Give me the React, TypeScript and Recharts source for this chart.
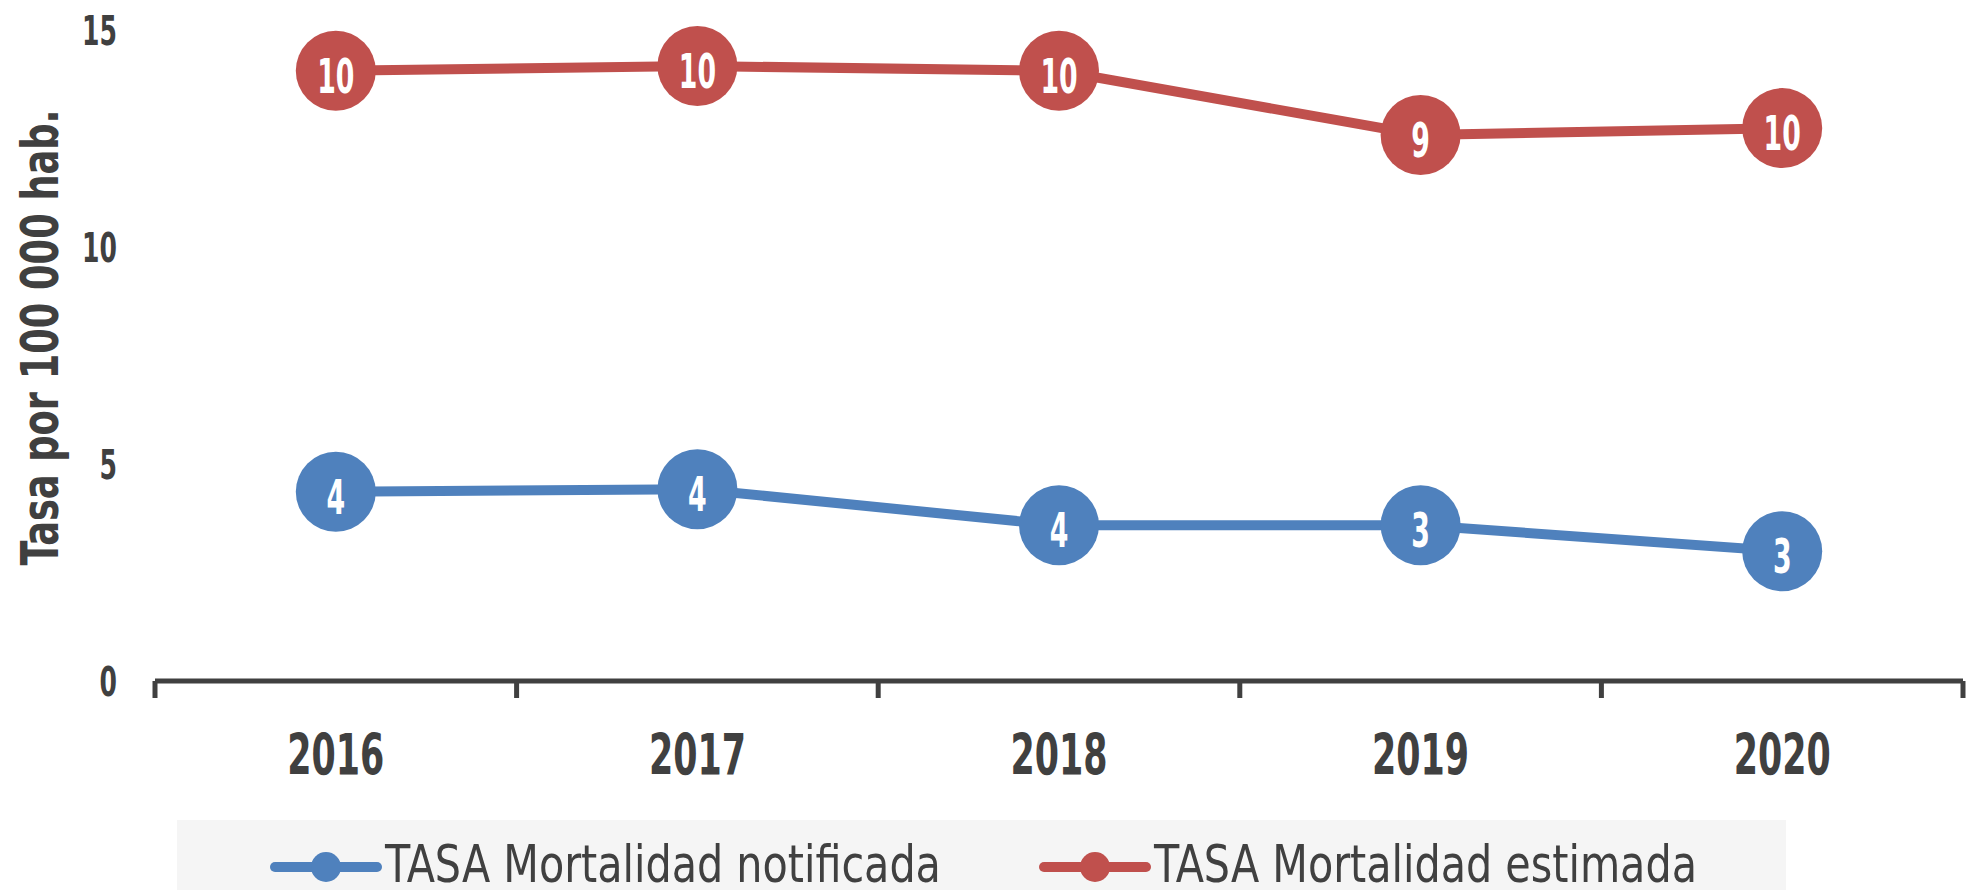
import { LineChart, Line, XAxis, YAxis, Legend, LabelList, Label } from 'recharts';

const years = ['2016', '2017', '2018', '2019', '2020'];
const notificada = [4.36, 4.42, 3.59, 3.59, 2.99];
const estimada = [14.06, 14.17, 14.06, 12.58, 12.74];
const notificadaLabels = ['4', '4', '4', '3', '3'];
const estimadaLabels = ['10', '10', '10', '9', '10'];
const yTicks = [0, 5, 10, 15];
const seriesNames = ['TASA Mortalidad notificada', 'TASA Mortalidad estimada'];

const data = years.map((year, i) => ({
  year,
  notificada: notificada[i],
  estimada: estimada[i],
  notLabel: notificadaLabels[i],
  estLabel: estimadaLabels[i],
}));

const FONT = '"DejaVu Sans Condensed", "DejaVu Sans", sans-serif';
const INK = '#404040';
const BLUE = '#4f81bd';
const RED = '#c0504d';

// the source uses a narrow DIN-like face, so squeeze the text horizontally
function Narrow({ x, y, sx, anchor = 'middle', size, weight = 'bold', fill = INK, rotate = 0, children }: any) {
  return (
    <text
      transform={`translate(${x} ${y}) rotate(${rotate}) scale(${sx} 1)`}
      textAnchor={anchor}
      fill={fill}
      fontFamily={FONT}
      fontWeight={weight}
      fontSize={size}
    >
      {children}
    </text>
  );
}

function XTick(props: any) {
  const { x, y, payload, index, visibleTicksCount } = props;
  const half = payload.offset || 0;
  const last = index === visibleTicksCount - 1;
  return (
    <g>
      <line x1={x - half} x2={x - half} y1={y} y2={y + 17} stroke={INK} strokeWidth={5} />
      {last && <line x1={x + half} x2={x + half} y1={y} y2={y + 17} stroke={INK} strokeWidth={5} />}
      <Narrow x={x} y={y + 94} sx={0.68} size={57}>
        {payload.value}
      </Narrow>
    </g>
  );
}

function YTick(props: any) {
  const { x, y, payload } = props;
  return (
    <Narrow x={x} y={y + 15} sx={0.68} size={41} anchor="end">
      {payload.value}
    </Narrow>
  );
}

function YTitle(props: any) {
  const { viewBox } = props;
  const cx = viewBox.x + 58;
  const cy = viewBox.y + viewBox.height / 2 - 18;
  return (
    <Narrow x={cx} y={cy} sx={0.8} size={51} rotate={-90}>
      Tasa por 100 000 hab.
    </Narrow>
  );
}

function DotLabel(props: any) {
  const { x, y, value } = props;
  return (
    <Narrow x={x} y={y + 22} sx={0.62} size={48} fill="#fff">
      {value}
    </Narrow>
  );
}

function LegendBox(props: any) {
  const { payload = [] } = props;
  const items = seriesNames.map((n) => payload.find((p: any) => p.value === n)).filter(Boolean);
  return (
    <svg width={1609} height={70} style={{ display: 'block', background: '#f5f5f5' }}>
      {items.map((item: any, i: number) => (
        <g key={item.value} transform={`translate(${98 + i * 769} 0)`}>
          <line x1={0} x2={102} y1={47} y2={47} stroke={item.color} strokeWidth={10} strokeLinecap="round" />
          <circle cx={51} cy={47} r={15} fill={item.color} />
          <Narrow x={110} y={62} sx={0.9} size={51} anchor="start" weight="normal">
            {item.value}
          </Narrow>
        </g>
      ))}
    </svg>
  );
}

export default function App() {
  return (
    <div style={{ position: 'absolute', left: 0, top: 0, background: '#fff' }}>
      <LineChart width={1977} height={890} data={data} margin={{ top: 30, right: 14, bottom: 179, left: 0 }}>
        <XAxis
          dataKey="year"
          scale="band"
          axisLine={{ stroke: INK, strokeWidth: 5 }}
          tickLine={false}
          tickSize={0}
          tickMargin={0}
          tick={<XTick />}
          interval={0}
        />
        <YAxis
          width={155}
          domain={[0, 15]}
          ticks={yTicks}
          axisLine={false}
          tickLine={false}
          tickSize={0}
          tickMargin={38}
          tick={<YTick />}
        >
          <Label content={<YTitle />} />
        </YAxis>
        <Legend
          layout="horizontal"
          verticalAlign="middle"
          align="center"
          content={<LegendBox />}
          wrapperStyle={{ position: 'absolute', left: 177, top: 820, width: 1609, height: 70 }}
        />
        <Line
          type="linear"
          dataKey="notificada"
          name={seriesNames[0]}
          stroke={BLUE}
          strokeWidth={10}
          dot={{ r: 40, fill: BLUE, stroke: 'none' }}
          activeDot={false}
          isAnimationActive={false}
        >
          <LabelList dataKey="notLabel" content={<DotLabel />} />
        </Line>
        <Line
          type="linear"
          dataKey="estimada"
          name={seriesNames[1]}
          stroke={RED}
          strokeWidth={10}
          dot={{ r: 40, fill: RED, stroke: 'none' }}
          activeDot={false}
          isAnimationActive={false}
        >
          <LabelList dataKey="estLabel" content={<DotLabel />} />
        </Line>
      </LineChart>
    </div>
  );
}
